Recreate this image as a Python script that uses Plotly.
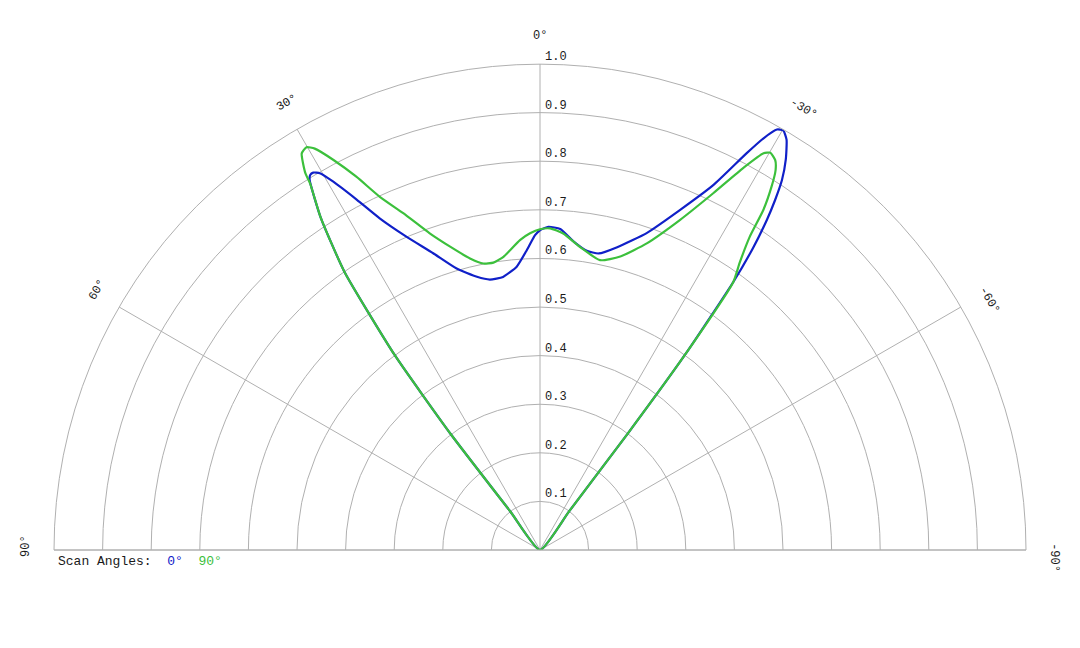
import math
import plotly.graph_objects as go

# ---------------- data ----------------
series_names = ["0°", "90°"]
series_colors = ["#1020c8", "#3cc03c"]

theta_0 = [37.6, 37.6, 37.6, 36.7, 35.1, 33.4, 31.9, 31.5, 31.0, 30.3, 29.3, 27.6,
           25.8, 23.1, 19.8, 16.5, 13.0, 10.5, 7.7, 4.7, 2.5, 0.9, 0.0, -1.5,
           -3.6, -6.3, -8.9, -11.2, -14.3, -18.6, -22.4, -25.4, -27.5, -28.5, -29.4,
           -30.1, -31.0, -32.2, -33.2, -33.9, -34.5, -35.2, -35.8, -36.6, -37.0,
           -37.0, -37.0]
r_0 = [0.0, 0.1, 0.3, 0.5, 0.7, 0.82, 0.897, 0.905, 0.906, 0.898, 0.869, 0.813,
       0.758, 0.701, 0.649, 0.604, 0.577, 0.566, 0.567, 0.585, 0.618, 0.648, 0.658, 0.665,
       0.662, 0.638, 0.623, 0.622, 0.643, 0.688, 0.757, 0.831, 0.920, 0.964, 0.993,
       0.998, 0.985, 0.949, 0.909, 0.867, 0.824, 0.76, 0.68, 0.5, 0.3,
       0.1, 0.0]

theta_90 = [37.6, 37.6, 37.6, 36.7, 35.1, 33.4, 32.1, 31.9, 31.0, 30.1, 29.3, 27.9,
            26.2, 24.4, 22.1, 19.2, 16.5, 13.5, 11.2, 9.2, 7.1, 5.7, 3.7, 1.8, 0.0,
            -1.8, -4.2, -7.5, -11.7, -15.3, -19.2, -23.0, -25.9, -28.0, -29.4, -30.1,
            -31.1, -31.8, -32.5, -33.3, -33.8, -34.8, -35.8, -36.6, -37.0, -37.0,
            -37.0]
r_90 = [0.0, 0.1, 0.3, 0.5, 0.7, 0.82, 0.89, 0.914, 0.952, 0.958, 0.947, 0.908,
        0.856, 0.798, 0.748, 0.690, 0.651, 0.617, 0.601, 0.599, 0.608, 0.620, 0.639, 0.652, 0.660,
        0.662, 0.653, 0.629, 0.609, 0.626, 0.668, 0.738, 0.816, 0.890, 0.937, 0.945,
        0.937, 0.920, 0.887, 0.837, 0.776, 0.72, 0.68, 0.5, 0.3, 0.1,
        0.0]

radial_ticks = [0.1, 0.2, 0.3, 0.4, 0.5, 0.6, 0.7, 0.8, 0.9, 1.0]
radial_ticktext = ["0.1", "0.2", "0.3", "0.4", "0.5", "0.6", "0.7", "0.8", "0.9", "1.0"]
angular_ticks = [90, 60, 30, 0, -30, -60, -90]
angular_ticktext = ["90°", "60°", "30°", "0°", "-30°", "-60°", "-90°"]
legend_title = "Scan Angles:"

# ---------------- layout constants ----------------
W, H = 1080, 648
CX, CY, R = 540.0, 550.0, 486.0
DOM_X = [(CX - R) / W, (CX + R) / W]
DOM_Y = [1 - CY / H, 1 - (CY - R) / H]
GRID = "#b0b0b0"
FONT = "Liberation Mono, Courier New, monospace"
TXT = "#1a1a1a"

fig = go.Figure()
for name, color, th, rr in [(series_names[0], series_colors[0], theta_0, r_0),
                            (series_names[1], series_colors[1], theta_90, r_90)]:
    fig.add_trace(go.Scatterpolar(r=rr, theta=th, mode="lines", name=name,
                                  line=dict(color=color, width=2.2, shape="spline",
                                            smoothing=0.5),
                                  showlegend=False, hoverinfo="skip"))

annotations = []
# radial tick labels along the 0° spoke
for v, t in zip(radial_ticks, radial_ticktext):
    ypx = CY - v * R - 7
    annotations.append(dict(x=(CX + 3) / W, y=1 - ypx / H, xref="paper", yref="paper",
                            text=t, showarrow=False, xanchor="left", yanchor="middle",
                            font=dict(family=FONT, size=12, color=TXT)))
# angular tick labels, rotated tangentially
RL = 514.0
for a, t in zip(angular_ticks, angular_ticktext):
    off = 0.0 if a == 0 else (-0.45 if a > 0 else -0.9)
    ang = math.radians(a + off)
    xpx = CX - RL * math.sin(ang)
    ypx = CY - RL * math.cos(ang)
    annotations.append(dict(x=xpx / W, y=1 - ypx / H, xref="paper", yref="paper",
                            text=t, showarrow=False, xanchor="center", yanchor="middle",
                            textangle=-a, font=dict(family=FONT, size=12, color=TXT)))
# legend line
legend_text = legend_title + "\u00a0\u00a0" + "\u00a0\u00a0".join(
    f"<span style='color:{c}'>{n}</span>" for n, c in zip(series_names, series_colors))
annotations.append(dict(x=56 / W, y=1 - 561 / H, xref="paper", yref="paper",
                        text=legend_text, showarrow=False, xanchor="left", yanchor="middle",
                        font=dict(family=FONT, size=13, color=TXT)))

fig.update_layout(
    width=W, height=H,
    margin=dict(l=0, r=0, t=0, b=0),
    paper_bgcolor="white",
    showlegend=False,
    annotations=annotations,
    polar=dict(
        domain=dict(x=DOM_X, y=DOM_Y),
        sector=[0, 180],
        bgcolor="white",
        angularaxis=dict(rotation=90, direction="counterclockwise",
                         tickmode="array", tickvals=angular_ticks,
                         showticklabels=False, ticks="",
                         showgrid=True, gridcolor=GRID, gridwidth=1,
                         showline=True, linecolor=GRID, linewidth=1),
        radialaxis=dict(range=[0, 1], tickmode="array", tickvals=radial_ticks,
                        showticklabels=False, ticks="", angle=90,
                        showgrid=True, gridcolor=GRID, gridwidth=1,
                        showline=False),
    ),
)

fig.write_html("out.html")
